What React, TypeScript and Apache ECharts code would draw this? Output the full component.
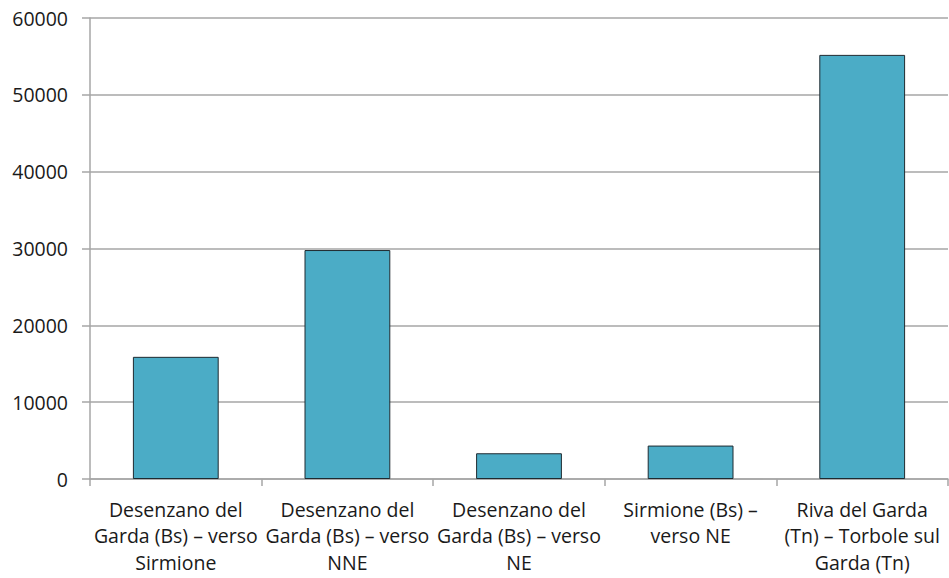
import React, { useEffect, useRef } from "react";
import * as echarts from "echarts";

const categories = [
  "Desenzano del\nGarda (Bs) – verso\nSirmione",
  "Desenzano del\nGarda (Bs) – verso\nNNE",
  "Desenzano del\nGarda (Bs) – verso\nNE",
  "Sirmione (Bs) –\nverso NE",
  "Riva del Garda\n(Tn) – Torbole sul\nGarda (Tn)",
];
const values = [15900, 29800, 3350, 4350, 55200];
const yTicks = [0, 10000, 20000, 30000, 40000, 50000, 60000];

export default function App() {
  const ref = useRef<HTMLDivElement>(null);
  useEffect(() => {
    if (!ref.current) return;
    const chart = echarts.init(ref.current, undefined, { renderer: "svg" });
    const font = "'Open Sans', 'Noto Sans', sans-serif";
    chart.setOption({
      animation: false,
      grid: { left: 90, right: 1, top: 18, bottom: 99, containLabel: false },
      xAxis: {
        type: "category",
        data: categories,
        axisLine: { lineStyle: { color: "#a6a6a6", width: 1.5 } },
        axisTick: { show: true, length: 7, alignWithLabel: false, lineStyle: { color: "#a6a6a6", width: 1.5 } },
        axisLabel: {
          color: "#1a1a1a",
          fontSize: 19.5,
          fontFamily: font,
          lineHeight: 26.5,
          margin: 17,
          interval: 0,
        },
      },
      yAxis: {
        type: "value",
        min: yTicks[0],
        max: yTicks[yTicks.length - 1],
        interval: 10000,
        axisLine: { show: true, lineStyle: { color: "#a6a6a6", width: 1.5 } },
        axisTick: { show: true, length: 8, lineStyle: { color: "#a6a6a6", width: 1.5 } },
        splitLine: { lineStyle: { color: "#a6a6a6", width: 1.5 } },
        axisLabel: {
          color: "#1a1a1a",
          fontSize: 19.5,
          fontFamily: font,
          margin: 22,
          formatter: (v: number) => String(v),
        },
      },
      series: [
        {
          type: "bar",
          data: values,
          barWidth: "50%",
          itemStyle: { color: "#4bacc6", borderColor: "#1f2a30", borderWidth: 1 },
        },
      ],
    });
    return () => chart.dispose();
  }, []);
  return <div ref={ref} style={{ width: 949, height: 578, position: "absolute", left: 0, top: 0 }} />;
}
